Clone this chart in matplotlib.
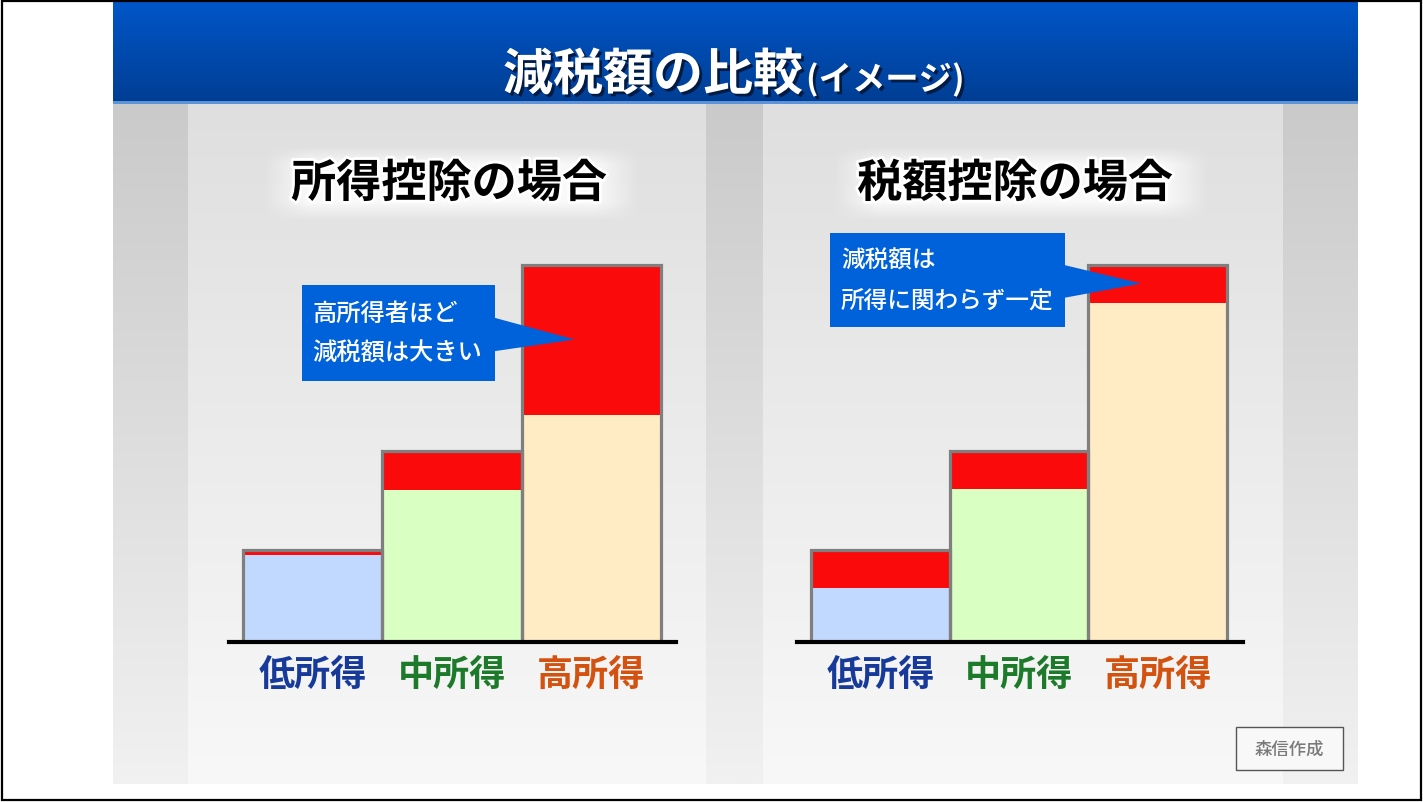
import matplotlib
matplotlib.use('Agg')
import matplotlib.pyplot as plt
import matplotlib.colors as mcolors
import matplotlib.patheffects as pe
from matplotlib.patches import Rectangle, Polygon
import numpy as np

plt.rcParams['font.family'] = ['Noto Sans CJK JP', 'DejaVu Sans']

W, H = 1423, 803

# ---------------- data ----------------
title_main = '減税額の比較'
title_sub = '(イメージ)'
panel_titles = ['所得控除の場合', '税額控除の場合']
categories = ['低所得', '中所得', '高所得']
category_colors = ['#173A9A', '#1C7A2A', '#D4520F']
base_colors = ['#C2D9FF', '#D9FFC2', '#FFEBC4']
reduction_color = '#FA0A0A'
# 所得控除の場合 (income deduction)
deduction_base = [87, 152, 227]
deduction_reduction = [5, 39, 150]
# 税額控除の場合 (tax credit)
credit_base = [54, 153, 339]
credit_reduction = [38, 38, 38]
callout_left = ['高所得者ほど', '減税額は大きい']
callout_right = ['減税額は', '所得に関わらず一定']
credit_text = '森信作成'

fig = plt.figure(figsize=(W / 100, H / 100), dpi=100)
fig.patch.set_facecolor('white')

bg = fig.add_axes([0, 0, 1, 1])
bg.axis('off')
bg.set_autoscale_on(False)
bg.set_xlim(0, W)
bg.set_ylim(H, 0)


def vgrad(ax, x0, x1, y0, y1, c_top, c_bot, z):
    t = np.linspace(0, 1, 256)[:, None, None]
    c0 = np.array(mcolors.to_rgb(c_top))[None, None, :]
    c1 = np.array(mcolors.to_rgb(c_bot))[None, None, :]
    img = c0 * (1 - t) + c1 * t
    ax.imshow(img, extent=(x0, x1, y1, y0), aspect='auto', zorder=z,
              interpolation='bilinear')


def glow_box(ax, x0, x1, y0, y1, z):
    nx, ny = 300, 80
    lx = np.linspace(0, 1, nx)
    ly = np.linspace(0, 1, ny)
    px = np.clip(np.minimum(lx, 1 - lx) / 0.12, 0, 1)
    py = np.clip(np.minimum(ly, 1 - ly) / 0.25, 0, 1)
    img = np.ones((ny, nx, 4))
    img[..., 3] = np.outer(py, px) * 0.8
    ax.imshow(img, extent=(x0, x1, y1, y0), aspect='auto', zorder=z,
              interpolation='bilinear')


# slide background
top_bar_bottom = 103
slide_bottom = 785
for (x0, x1) in [(113, 188), (706, 763), (1283, 1358)]:
    vgrad(bg, x0, x1, top_bar_bottom, slide_bottom, '#CACACA', '#F1F1F1', 1)
for (x0, x1) in [(188, 706), (763, 1283)]:
    vgrad(bg, x0, x1, top_bar_bottom, slide_bottom, '#DFDFDF', '#F8F8F8', 1)
# title bar
vgrad(bg, 113, 1358, 3, top_bar_bottom, '#0056C8', '#003E94', 2)
bg.add_patch(Rectangle((113, top_bar_bottom - 1), 1245, 2.5, color='#5E93DA', zorder=3, lw=0))

# panel title glow boxes
glow_box(bg, 263, 640, 147, 222, 2)
glow_box(bg, 833, 1210, 147, 222, 2)


def chart_axes(x_left, x_right, bar_left, bar_right, base, red):
    baseline = 642.5
    height = 410
    ax = fig.add_axes([x_left / W, (H - baseline) / H, (x_right - x_left) / W, height / H])
    ax.set_ylim(0, height)
    unit = (bar_right - bar_left) / 3
    ax.set_xlim(-0.5 - (bar_left - x_left) / unit, 2.5 + (x_right - bar_right) / unit)
    ax.patch.set_alpha(0)
    for sp in ax.spines.values():
        sp.set_visible(False)
    ax.set_yticks([])
    x = np.arange(len(categories))
    base = np.array(base, float)
    red = np.array(red, float)
    ax.bar(x, base, width=1, color=base_colors, edgecolor='none', zorder=2)
    ax.bar(x, red, bottom=base, width=1, color=reduction_color, edgecolor='none', zorder=2)
    ax.bar(x, base + red, width=1, facecolor='none', edgecolor='#7F7F7F',
           linewidth=2.3, zorder=3)
    ax.axhline(0, color='black', lw=3, zorder=4, clip_on=False)
    ax.set_xticks(x, categories)
    ax.tick_params(axis='x', length=0, pad=11, labelsize=26)
    for lbl, c in zip(ax.get_xticklabels(), category_colors):
        lbl.set_color(c)
        lbl.set_fontweight('bold')
    return ax


ax1 = chart_axes(229, 676, 243, 661, deduction_base, deduction_reduction)
ax2 = chart_axes(797, 1243, 811, 1227, credit_base, credit_reduction)

# overlay
ov = fig.add_axes([0, 0, 1, 1])
ov.axis('off')
ov.patch.set_alpha(0)
ov.set_autoscale_on(False)
ov.set_xlim(0, W)
ov.set_ylim(H, 0)

# titles
shadow = [pe.SimplePatchShadow(offset=(2, -2), shadow_rgbFace='#001535', alpha=0.85), pe.Normal()]
ov.text(803, 91, title_main, ha='right', va='baseline', fontsize=36, fontweight='bold',
        color='white', path_effects=shadow, zorder=10)
ov.text(806, 91, title_sub, ha='left', va='baseline', fontsize=24, fontweight='bold',
        color='white', path_effects=shadow, zorder=10)

glow = [pe.withStroke(linewidth=4, foreground='white')]
ov.text(449, 185, panel_titles[0], ha='center', va='center', fontsize=32.5,
        fontweight='bold', color='black', path_effects=glow, zorder=10)
ov.text(1015, 185, panel_titles[1], ha='center', va='center', fontsize=32.5,
        fontweight='bold', color='black', path_effects=glow, zorder=10)

callout_color = '#0062DA'


def to_overlay(ax, xy):
    disp = ax.transData.transform(xy)
    return ov.transData.inverted().transform(disp)


def callout(ax, box, base, red, lines, line_y, text_x, fs):
    x0, y0, x1, y1 = box
    tip = to_overlay(ax, (2 - 0.12, base[2] + red[2] / 2))
    ov.add_patch(Rectangle((x0, y0), x1 - x0, y1 - y0, color=callout_color, lw=0, zorder=6))
    h = y1 - y0
    ov.add_patch(Polygon([(x1 - 1, y0 + 0.34 * h), tuple(tip), (x1 - 1, y0 + 0.69 * h)],
                         closed=True, color=callout_color, lw=0, zorder=6))
    for s, yy in zip(lines, line_y):
        ov.text(text_x, yy, s, ha='left', va='center', fontsize=fs, color='white',
                fontweight='medium', zorder=7)


callout(ax1, (302, 286, 495, 382), deduction_base, deduction_reduction,
        callout_left, [314, 354], 312, 17.5)
callout(ax2, (830, 234, 1065, 328), credit_base, credit_reduction,
        callout_right, [261, 301], 841, 17)

# credit box
ov.add_patch(Rectangle((1236, 728), 107, 43, facecolor='#F8F8F8', edgecolor='#555555',
                       lw=1, zorder=6))
ov.text(1289.5, 750, credit_text, ha='center', va='center', fontsize=12.5,
        fontweight='medium', color='#7A7A7A', zorder=7)

# outer border
ov.add_patch(Rectangle((1.5, 1.5), 1419.5, 799.5, fill=False, edgecolor='black', lw=1.6, zorder=20))

fig.savefig('out.png', dpi=100)
